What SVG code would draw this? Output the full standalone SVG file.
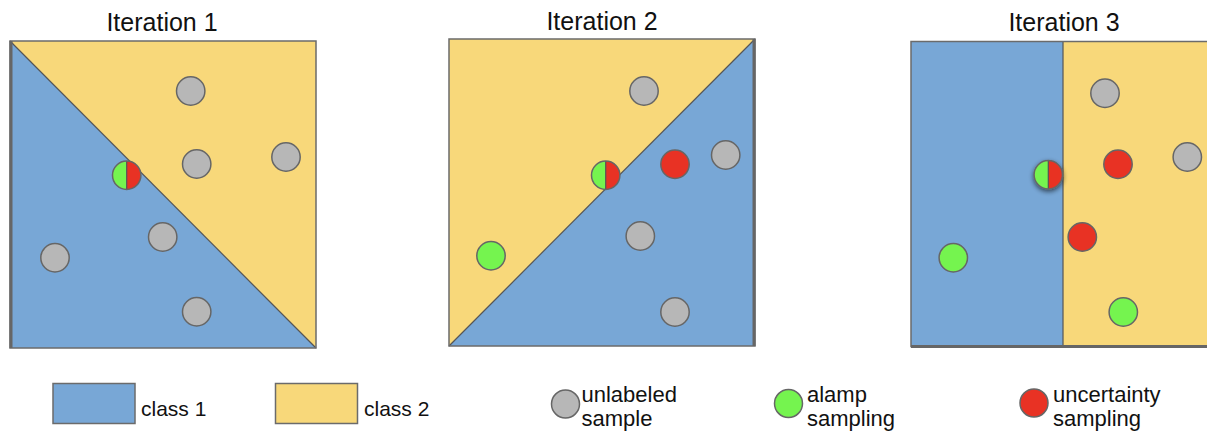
<svg xmlns="http://www.w3.org/2000/svg" width="1207" height="432" viewBox="0 0 1207 432">
<style>
.title{font-family:"Liberation Sans",Arial,sans-serif;font-size:25px;fill:#111;text-anchor:middle}
.lbl{font-family:"Liberation Sans",Arial,sans-serif;font-size:21px;fill:#111}
.lbl2{font-family:"Liberation Sans",Arial,sans-serif;font-size:22px;fill:#111}
.blue{fill:#78a7d6}
.yellow{fill:#f8d87a}
.frame{fill:none;stroke:#6b6b6b;stroke-width:1.5}
.edge{stroke:#666;stroke-width:3}
.div{stroke:#555;stroke-width:1.2}
.gray{fill:#b7b7b7;stroke:#666;stroke-width:1.5}
.green{fill:#75f44f;stroke:#666;stroke-width:1.5}
.red{fill:#e83224;stroke:#666;stroke-width:1.5}
.hg{fill:#75f44f}
.hr{fill:#e83224}
.ho{fill:none;stroke:#666;stroke-width:1.5}
.hl{stroke:#555;stroke-width:1.2}
</style>
<defs>
<filter id="sh" x="-60%" y="-60%" width="220%" height="220%">
<feGaussianBlur in="SourceAlpha" stdDeviation="2.5"/>
<feOffset dx="0" dy="2" result="b"/>
<feComponentTransfer><feFuncA type="linear" slope="0.6"/></feComponentTransfer>
<feMerge><feMergeNode/><feMergeNode in="SourceGraphic"/></feMerge>
</filter>
<g id="half">
<path class="hg" d="M0,-14.2 A14.2,14.2 0 0 0 0,14.2 Z"/>
<path class="hr" d="M0,-14.2 A14.2,14.2 0 0 1 0,14.2 Z"/>
<line class="hl" x1="0" y1="-14.2" x2="0" y2="14.2"/>
<circle class="ho" r="14.2"/>
</g>
</defs>
<rect width="1207" height="432" fill="#fff"/>

<g id="panel1">
<text class="title" x="162" y="31">Iteration 1</text>
<polygon class="yellow" points="10,41 316,41 316,348"/>
<polygon class="blue" points="10,41 316,348 10,348"/>
<line class="div" x1="10" y1="41" x2="316" y2="348"/>
<rect class="frame" x="10" y="41" width="306" height="307"/>
<line class="edge" x1="11" y1="41" x2="11" y2="348"/>
<circle class="gray" cx="190.7" cy="91" r="14.2"/>
<circle class="gray" cx="196.7" cy="164" r="14.2"/>
<circle class="gray" cx="286" cy="157" r="14.2"/>
<circle class="gray" cx="162.7" cy="237" r="14.2"/>
<circle class="gray" cx="55" cy="257.7" r="14.2"/>
<circle class="gray" cx="196.7" cy="311.7" r="14.2"/>
<use href="#half" x="126.7" y="175.3"/>
</g>

<g id="panel2">
<text class="title" x="602" y="30">Iteration 2</text>
<polygon class="yellow" points="449,39 755,39 449,346"/>
<polygon class="blue" points="755,39 755,346 449,346"/>
<line class="div" x1="449" y1="346" x2="755" y2="39"/>
<rect class="frame" x="449" y="39" width="306" height="307"/>
<line class="edge" x1="754" y1="39" x2="754" y2="346"/>
<circle class="gray" cx="644" cy="91" r="14.2"/>
<circle class="gray" cx="725.7" cy="155" r="14.2"/>
<circle class="red" cx="675" cy="164.3" r="14.2"/>
<circle class="gray" cx="640.3" cy="236" r="14.2"/>
<circle class="green" cx="491" cy="255.7" r="14.2"/>
<circle class="gray" cx="675" cy="312" r="14.2"/>
<use href="#half" x="605.7" y="175.3"/>
</g>

<g id="panel3">
<text class="title" x="1064" y="31">Iteration 3</text>
<rect class="blue" x="911" y="41.5" width="152" height="305"/>
<rect class="yellow" x="1063" y="41.5" width="150" height="305"/>
<line class="div" x1="1063" y1="41.5" x2="1063" y2="346.5"/>
<rect class="frame" x="911" y="41.5" width="310" height="305"/>
<line class="edge" x1="911" y1="346.5" x2="1207" y2="346.5"/>
<circle class="gray" cx="1105" cy="93.3" r="14.2"/>
<circle class="gray" cx="1187.3" cy="157" r="14.2"/>
<circle class="red" cx="1118" cy="164.3" r="14.2"/>
<circle class="red" cx="1082.3" cy="237" r="14.2"/>
<circle class="green" cx="953.3" cy="257.7" r="14.2"/>
<circle class="green" cx="1123.3" cy="312" r="14.2"/>
<use href="#half" x="1048.3" y="174.7" filter="url(#sh)"/>
</g>

<g id="legend-class1">
<rect class="blue" x="53" y="383.5" width="82" height="40" stroke="#6b6b6b" stroke-width="1.5"/>
<text class="lbl" x="141" y="415.5">class 1</text>
</g>
<g id="legend-class2">
<rect class="yellow" x="275.5" y="383.5" width="82" height="40" stroke="#6b6b6b" stroke-width="1.5"/>
<text class="lbl" x="364" y="415.5">class 2</text>
</g>
<g id="legend-unlabeled">
<circle class="gray" cx="565.5" cy="404" r="14"/>
<text class="lbl2" x="581.5" y="401.5">unlabeled</text>
<text class="lbl2" x="581.5" y="425.5">sample</text>
</g>
<g id="legend-alamp">
<circle class="green" cx="788.5" cy="403.5" r="14"/>
<text class="lbl2" x="807" y="401.5">alamp</text>
<text class="lbl2" x="807" y="425.5">sampling</text>
</g>
<g id="legend-uncertainty">
<circle class="red" cx="1034" cy="403" r="14"/>
<text class="lbl2" x="1053" y="401.5">uncertainty</text>
<text class="lbl2" x="1053" y="425.5">sampling</text>
</g>
<g id="connectors"></g>
</svg>
